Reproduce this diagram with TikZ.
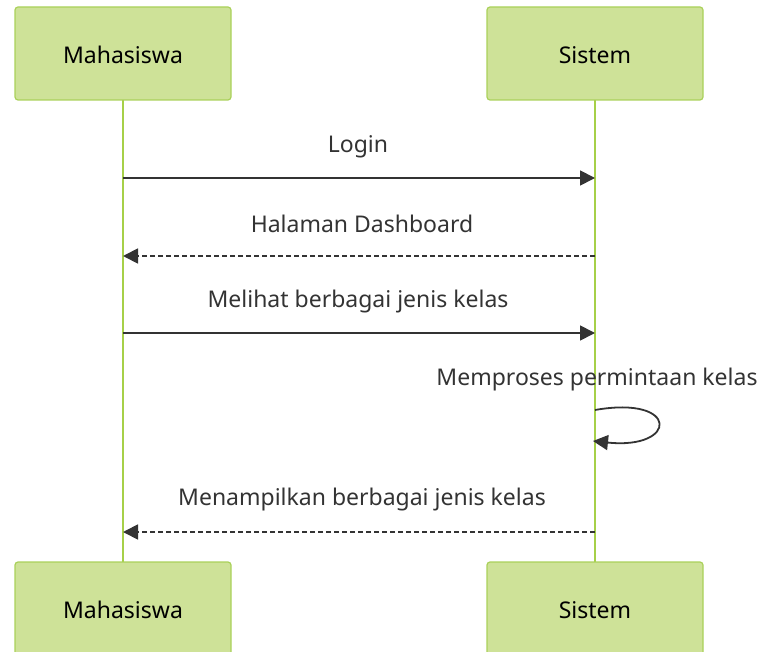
\documentclass[tikz,border=0pt]{standalone}
\usepackage{fontspec}
\setmainfont{Noto Sans}
\usetikzlibrary{arrows.meta}
\definecolor{actorfill}{HTML}{CEE298}
\definecolor{actorline}{HTML}{AAD15A}
\definecolor{lifeline}{HTML}{A6D048}
\definecolor{msgcol}{HTML}{333333}
\begin{document}
\begin{tikzpicture}[x=1pt,y=-1pt,
  actor/.style={draw=actorline, line width=1.2pt, fill=actorfill, rounded corners=3pt,
    minimum width=216pt, minimum height=93pt, inner sep=0pt, text=black,
    text height=19.5pt, text depth=0pt,
    font=\fontsize{23}{27}\selectfont},
  life/.style={draw=lifeline, line width=2.4pt},
  msg/.style={draw=msgcol, line width=1.8pt, -{Triangle[length=15pt,width=15pt]}},
  reply/.style={msg, dash pattern=on 5pt off 3pt},
  label/.style={text=msgcol, inner sep=0pt, font=\fontsize{23}{27}\selectfont}]
\useasboundingbox (0,0) rectangle (760,652);

% lifelines
\coordinate (mt) at (123,100);
\coordinate (mb) at (123,562);
\coordinate (st) at (595,100);
\coordinate (sb) at (595,562);
\draw[life] (mt) -- (mb);
\draw[life] (st) -- (sb);

% participants, top and bottom
\node[actor] (mhs1) at (123,53.5) {Mahasiswa};
\node[actor] (sys1) at (595,53.5) {Sistem};
\node[actor] (mhs2) at (123,608.5) {Mahasiswa};
\node[actor] (sys2) at (595,608.5) {Sistem};

% message anchors on the lifelines
\coordinate (m1a) at (123,178); \coordinate (m1b) at (595,178);
\coordinate (m2a) at (595,256); \coordinate (m2b) at (123,256);
\coordinate (m3a) at (123,333); \coordinate (m3b) at (595,333);
\coordinate (m4a) at (595,410); \coordinate (m4b) at (593,441);
\coordinate (m5a) at (595,532); \coordinate (m5b) at (123,532);

% messages
\draw[msg] (m1a) -- (m1b);
\node[label] (t1) at (358,147) {Login};
\draw[reply] (m2a) -- (m2b);
\node[label] (t2) at (362,224) {Halaman Dashboard};
\draw[msg] (m3a) -- (m3b);
\node[label] (t3) at (358,302) {Melihat berbagai jenis kelas};
\draw[msg] (m4a) .. controls (680,395) and (678,450) .. (m4b);
\node[label] (t4) at (597,380) {Memproses permintaan kelas};
\draw[reply] (m5a) -- (m5b);
\node[label] (t5) at (362,500) {Menampilkan berbagai jenis kelas};
\end{tikzpicture}
\end{document}
